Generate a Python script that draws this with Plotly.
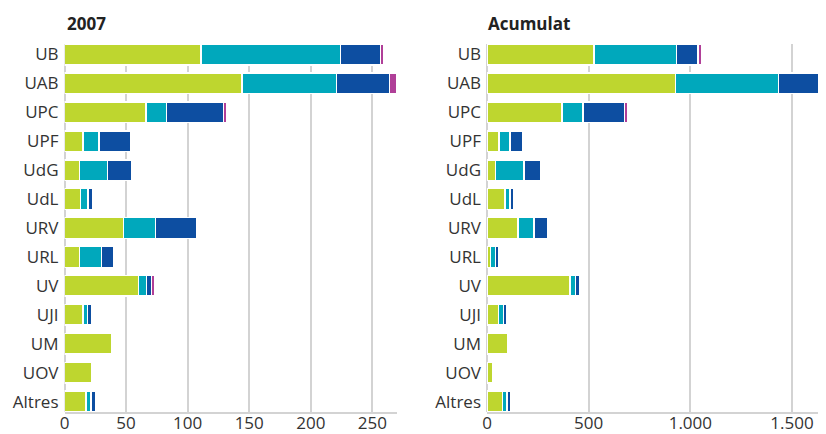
import plotly.graph_objects as go

universitats = ["UB", "UAB", "UPC", "UPF", "UdG", "UdL", "URV", "URL", "UV", "UJI", "UM", "UOV", "Altres"]

# 2007
any_s1 = [111, 144, 66, 15, 12, 13, 48, 12, 60, 15, 38, 22, 17.5]
any_s2 = [113, 77, 17, 13, 23, 6, 26, 18, 6.5, 3.5, 0, 0, 4]
any_s3 = [32.5, 43, 46, 26, 20, 4, 33, 10, 4, 4, 0, 0, 4]
any_s4 = [2.6, 5.5, 2.5, 0, 0, 0, 0, 0, 2.5, 0, 0, 0, 0]

# Acumulat
acu_s1 = [527, 927, 370, 58, 43, 89, 152, 18, 409, 57, 103, 30, 75]
acu_s2 = [405, 507, 103, 55, 140, 24, 80, 23, 25, 23, 0, 0, 23]
acu_s3 = [106, 330, 202, 64, 82, 20, 69, 18, 24, 18, 0, 0, 19]
acu_s4 = [16, 20, 19, 0, 0, 0, 0, 0, 0, 0, 0, 0, 0]

colors = ["#bed62f", "#00a8bc", "#0d4ea1", "#b03f98"]
noms = ["Sèrie 1", "Sèrie 2", "Sèrie 3", "Sèrie 4"]

# the page body keeps its 8px default margin, so the figure is 8px smaller
W, H = 818, 426

fig = go.Figure()

for vals, col, nom in zip([any_s1, any_s2, any_s3, any_s4], colors, noms):
    fig.add_trace(go.Bar(y=universitats, x=vals, orientation="h", name=nom,
                         marker=dict(color=col, line=dict(color="white", width=1.5)),
                         xaxis="x", yaxis="y", showlegend=False))

for vals, col, nom in zip([acu_s1, acu_s2, acu_s3, acu_s4], colors, noms):
    fig.add_trace(go.Bar(y=universitats, x=vals, orientation="h", name=nom,
                         marker=dict(color=col, line=dict(color="white", width=1.5)),
                         xaxis="x2", yaxis="y2", showlegend=False))

grid = "#d3d3d3"
font = dict(family="Open Sans", size=17, color="#333333")

xcommon = dict(showgrid=True, gridcolor=grid, gridwidth=2, zeroline=True,
               zerolinecolor=grid, zerolinewidth=2, showline=True,
               linecolor=grid, linewidth=2, ticks="", tickfont=font,
               ticklabelstandoff=-5, automargin=False, fixedrange=True)
ycommon = dict(type="category", range=[12.36, -0.36], showgrid=False,
               zeroline=False, showline=False, ticks="", tickfont=font,
               ticklabelstandoff=5, automargin=False)

fig.update_layout(
    barmode="stack",
    bargap=0.285,
    width=W, height=H,
    margin=dict(l=0, r=0, t=36, b=22),
    paper_bgcolor="white", plot_bgcolor="white",
    separators=",.",
    xaxis=dict(domain=[56.5 / W, 389 / W], range=[0, 270],
               tickvals=[0, 50, 100, 150, 200, 250], anchor="y", **xcommon),
    yaxis=dict(domain=[0, 1], anchor="x", **ycommon),
    xaxis2=dict(domain=[479 / W, 1], range=[0, 1667],
                tickvals=[0, 500, 1000, 1500], separatethousands=True,
                anchor="y2", **xcommon),
    yaxis2=dict(domain=[0, 1], anchor="x2", **ycommon),
    annotations=[
        dict(text="<b>2007</b>", xref="paper", yref="paper", x=57 / W, y=1.057,
             xanchor="left", yanchor="middle", showarrow=False,
             font=dict(family="Open Sans", size=17, color="#222222")),
        dict(text="<b>Acumulat</b>", xref="paper", yref="paper", x=478 / W, y=1.057,
             xanchor="left", yanchor="middle", showarrow=False,
             font=dict(family="Open Sans", size=17, color="#222222")),
    ],
)

fig.write_html("out.html")
